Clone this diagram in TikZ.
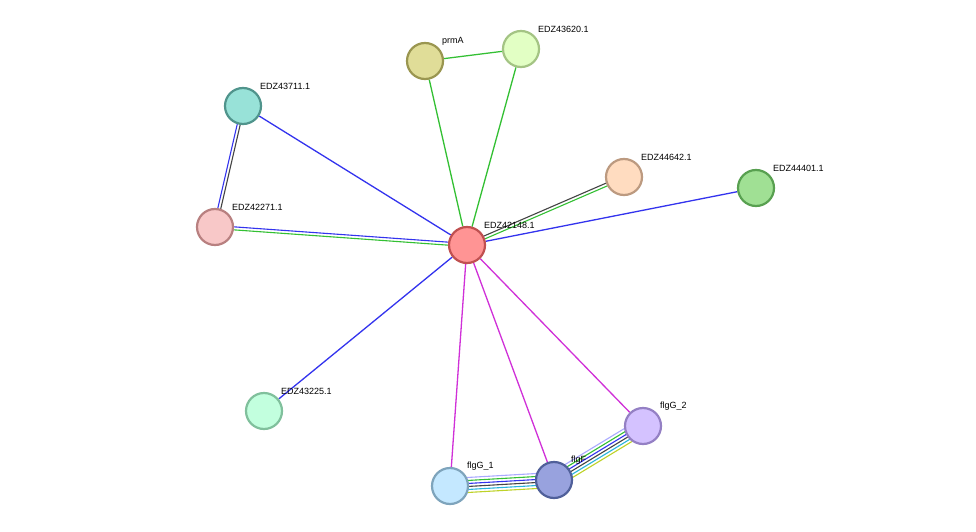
\documentclass[tikz,border=0pt]{standalone}
\usepackage{fontspec}
\setmainfont{Liberation Sans}
\usetikzlibrary{calc,backgrounds}
\begin{document}
\begin{tikzpicture}[x=1pt,y=-1pt,
  prot/.style={circle,minimum size=36pt,inner sep=0pt,line width=2.2pt},
  lab/.style={anchor=west,font=\fontsize{9pt}{10pt}\selectfont,inner sep=0pt},
  e/.style={line width=1.3pt}]
\useasboundingbox (0,0) rectangle (976,532);
\definecolor{cgreen}{HTML}{33C033}
\definecolor{cblue}{HTML}{3333EE}
\definecolor{cmag}{HTML}{D030D8}
\definecolor{clav}{HTML}{AAAAFF}
\definecolor{ccyan}{HTML}{28B4DC}
\definecolor{cyel}{HTML}{BED228}
\definecolor{cgray}{HTML}{444444}
\newcommand{\prot}[6]{%
  \definecolor{#1fill}{HTML}{#4}\definecolor{#1draw}{HTML}{#5}%
  \node[prot,fill=#1fill,draw=#1draw] (#1) at (#2,#3) {};
  \node[lab] (#1l) at (#2+17,#3-20) {#6};}
\prot{c}{467}{245}{FF9494}{C05050}{EDZ42148.1}
\prot{prmA}{425}{61}{E0DD98}{9A9650}{prmA}
\prot{e620}{521}{49}{E2FFC4}{A4C484}{EDZ43620.1}
\prot{e711}{243}{106}{98E2D8}{50948C}{EDZ43711.1}
\prot{e271}{215}{227}{F8C8C8}{B88080}{EDZ42271.1}
\prot{e642}{624}{177}{FFDCC0}{BC9A80}{EDZ44642.1}
\prot{e401}{756}{188}{A0E094}{58A050}{EDZ44401.1}
\prot{e225}{264}{411}{C2FFDE}{80C09C}{EDZ43225.1}
\prot{g1}{450}{486}{C4E8FF}{7EA4BC}{flgG\_1}
\prot{f}{554}{480}{98A2DE}{50609A}{flgF}
\prot{g2}{643}{426}{D4C2FF}{9480C4}{flgG\_2}
\newcommand{\bund}[3]{%
  \foreach \o/\col in {#3}{%
    \draw[line width=1.1pt,draw=\col] ($(#1.center)!\o pt!90:(#2.center)$) -- ($(#2.center)!\o pt!-90:(#1.center)$);}}
\begin{scope}[on background layer]
\fill[white] (0,0) rectangle (976,532);
\draw[e,cgreen] (prmA) -- (e620);
\draw[e,cgreen] (prmA) -- (c);
\draw[e,cgreen] (e620) -- (c);
\draw[e,cblue] (e711) -- (c);
\draw[e,cblue] (e401) -- (c);
\draw[e,cblue] (e225) -- (c);
\bund{e711}{e271}{-1.5/cblue,1.5/cgray}
\bund{e271}{c}{1.5/cblue,-1.5/cgreen}
\bund{e642}{c}{-1.5/cgray,1.5/cgreen}
\draw[e,cmag] (c) -- (g1);
\draw[e,cmag] (c) -- (f);
\draw[e,cmag] (c) -- (g2);
\bund{g1}{f}{7.5/clav,4.5/cgreen,1.5/cblue,-1.5/cgray,-4.5/ccyan,-7.5/cyel}
\bund{f}{g2}{7.5/clav,4.5/cgreen,1.5/cblue,-1.5/cgray,-4.5/ccyan,-7.5/cyel}
\end{scope}
\end{tikzpicture}
\end{document}
